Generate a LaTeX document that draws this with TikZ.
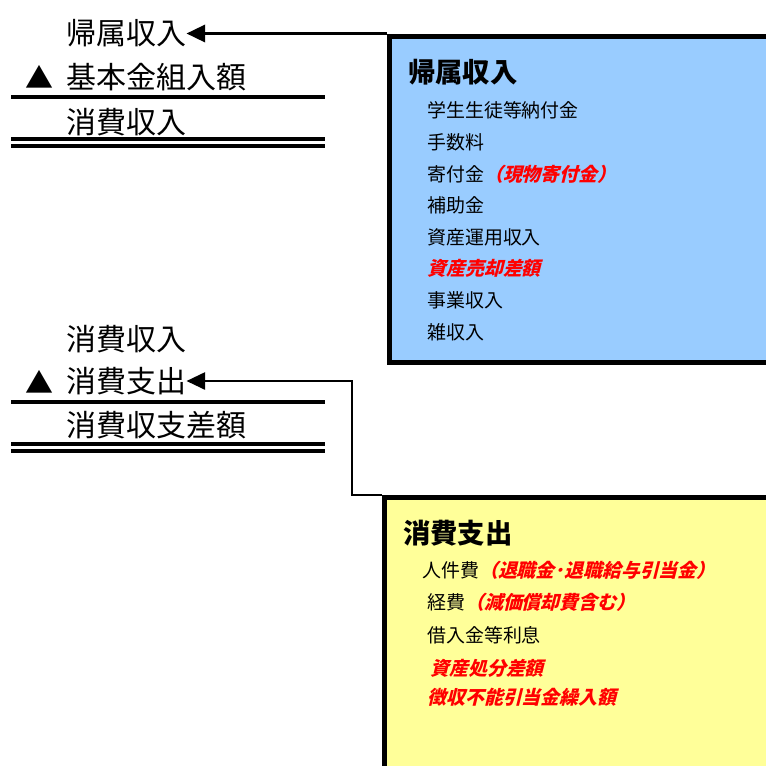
\documentclass[tikz,border=0pt]{standalone}
\usepackage{fontspec}
\setmainfont{Noto Sans CJK JP}
\newfontfamily\jpsl[FakeSlant=0.25]{Noto Sans CJK JP}
\usetikzlibrary{arrows.meta}
\definecolor{boxblue}{HTML}{99CCFF}
\definecolor{boxyellow}{HTML}{FFFF99}
\newcommand{\redpart}[1]{\textcolor{red}{\jpsl\bfseries #1}}
\begin{document}
\begin{tikzpicture}[x=0.75pt,y=-0.75pt,
  lbl/.style={anchor=west,inner sep=0pt,font=\fontsize{22.5pt}{24pt}\selectfont},
  tri/.style={inner sep=0pt,font=\fontsize{21pt}{22pt}\selectfont},
  ttl/.style={anchor=west,inner sep=0pt,font=\fontsize{20.5pt}{22pt}\selectfont\bfseries},
  item/.style={anchor=west,inner sep=0pt,font=\fontsize{14.2pt}{16pt}\selectfont},
  reditem/.style={anchor=west,inner sep=0pt,text=red,font=\fontsize{14.2pt}{16pt}\selectfont\jpsl\bfseries},
  rule/.style={line width=2.3pt},
  bigbox/.style={draw=black,line width=3.75pt,anchor=north west,inner sep=0pt,minimum width=324.75pt},
  conn/.style={draw=black,-{Triangle[length=14pt,width=13pt]}}]
\useasboundingbox (0,0) rectangle (766,765);
\clip (0,0) rectangle (766,765);

% boxes
\node[bigbox,fill=boxblue,minimum height=244.5pt] (bluebox) at (387,33.5) {};
\node[bigbox,fill=boxyellow,minimum height=225pt] (yellowbox) at (382,495) {};

% left group 1
\node[lbl] (kz1) at (66,33.5) {帰属収入};
\node[tri] (tri1) at (40,77) {▲};
\node[lbl] (kk1) at (66,77) {基本金組入額};
\node[lbl] (sn1) at (66,122) {消費収入};
\coordinate (r1a) at (11,97);  \coordinate (r1b) at (325,97);
\coordinate (r2a) at (11,139); \coordinate (r2b) at (325,139);
\coordinate (r3a) at (11,146); \coordinate (r3b) at (325,146);
\draw[rule] (r1a) -- (r1b);
\draw[rule] (r2a) -- (r2b);
\draw[rule] (r3a) -- (r3b);

% left group 2
\node[lbl] (sn2) at (66,339) {消費収入};
\node[tri] (tri2) at (40,382) {▲};
\node[lbl] (ss2) at (66,381) {消費支出};
\node[lbl] (sa2) at (66,425) {消費収支差額};
\coordinate (r4a) at (11,402); \coordinate (r4b) at (325,402);
\coordinate (r5a) at (11,444); \coordinate (r5b) at (325,444);
\coordinate (r6a) at (11,451); \coordinate (r6b) at (325,451);
\draw[rule] (r4a) -- (r4b);
\draw[rule] (r5a) -- (r5b);
\draw[rule] (r6a) -- (r6b);

% blue box contents
\node[ttl] (bt) at (408,72) {帰属収入};
\node[item] (b1) at (427,110) {学生生徒等納付金};
\node[item] (b2) at (427,142) {手数料};
\node[item] (b3) at (427,174) {寄付金\redpart{（現物寄付金）}};
\node[item] (b4) at (427,205) {補助金};
\node[item] (b5) at (427,237) {資産運用収入};
\node[reditem] (b6) at (427,268) {資産売却差額};
\node[item] (b7) at (427,300) {事業収入};
\node[item] (b8) at (427,332) {雑収入};

% yellow box contents
\node[ttl] (yt) at (403,533) {消費支出};
\node[item] (y1) at (422,570) {人件費\redpart{（退職金･退職給与引当金）}};
\node[item] (y2) at (427,602) {経費\redpart{（減価償却費含む）}};
\node[item] (y3) at (427,635) {借入金等利息};
\node[reditem] (y4) at (430,668) {資産処分差額};
\node[reditem] (y5) at (427,697) {徴収不能引当金繰入額};

% connectors
\draw[conn,line width=1.9pt] (bluebox.north west) -- (kz1.east);
\coordinate (bend) at (352,495);
\draw[conn,line width=1.5pt] (yellowbox.north west) -- (bend) |- (ss2.east);
\end{tikzpicture}
\end{document}
